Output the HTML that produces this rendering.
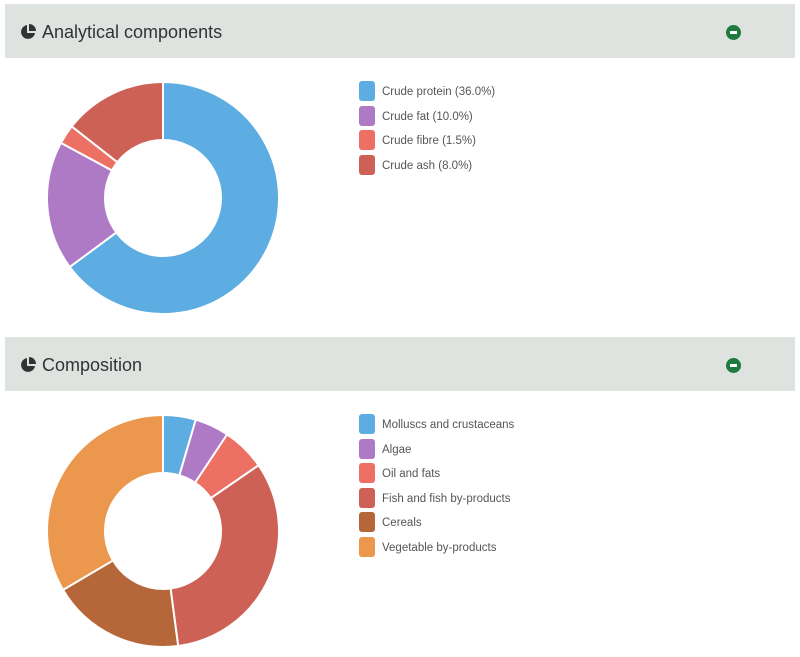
<!DOCTYPE html>
<html><head><meta charset="utf-8"><style>
body{margin:0;width:800px;height:657px;background:#fff;font-family:"Liberation Sans",sans-serif;position:relative;overflow:hidden}
.hdr{position:absolute;left:5px;width:790px;height:54px;background:#dfe3e0}
.hdr .t{position:absolute;left:37px;top:18px;font-size:18px;color:#333}
.hdr .pi{position:absolute;left:15px;top:20px;width:16px;height:16px}
.hdr .g{position:absolute;left:721px;top:21px;width:15px;height:15px;border-radius:50%;background:#1e7a3e}
.hdr .g:after{content:"";position:absolute;left:4px;top:6px;width:7px;height:3px;background:#fff}
.lg{position:absolute;left:359px;font-size:11.5px;color:#555}
.lg div{height:24.5px;position:relative}
.lg span{position:absolute;left:0;top:0;width:16px;height:20px;border-radius:3px}
.lg b{font-weight:normal;position:absolute;left:23px;top:5px;white-space:nowrap}
svg.c{position:absolute;left:0;top:0}
</style></head><body>
<div class="hdr" style="top:4px"><svg class="pi" viewBox="0 0 16 16"><path d="M7 1A7 7 0 1 0 15 9H7Z" fill="#333"/><path d="M9 0A7 7 0 0 1 16 7H9Z" fill="#333"/></svg><div class="t">Analytical components</div><div class="g"></div></div>
<div class="hdr" style="top:337px"><svg class="pi" viewBox="0 0 16 16"><path d="M7 1A7 7 0 1 0 15 9H7Z" fill="#333"/><path d="M9 0A7 7 0 0 1 16 7H9Z" fill="#333"/></svg><div class="t">Composition</div><div class="g"></div></div>
<div class="lg" style="top:81px">
<div><span style="background:#5dade2"></span><b>Crude protein (36.0%)</b></div>
<div><span style="background:#af7ac5"></span><b>Crude fat (10.0%)</b></div>
<div><span style="background:#ec7063"></span><b>Crude fibre (1.5%)</b></div>
<div><span style="background:#cd6155"></span><b>Crude ash (8.0%)</b></div>
</div>
<div class="lg" style="top:414px">
<div><span style="background:#5dade2"></span><b>Molluscs and crustaceans</b></div>
<div><span style="background:#af7ac5"></span><b>Algae</b></div>
<div><span style="background:#ec7063"></span><b>Oil and fats</b></div>
<div><span style="background:#cd6155"></span><b>Fish and fish by-products</b></div>
<div><span style="background:#b5673a"></span><b>Cereals</b></div>
<div><span style="background:#eb984e"></span><b>Vegetable by-products</b></div>
</div>
<svg class="c" width="800" height="657" id="s"></svg>
<script>
function donut(cx,cy,R,r,bounds,cols){
 let out="";let a0=0;
 bounds.forEach((a1,i)=>{
  const p=(a,rad)=>[cx+rad*Math.sin(a*Math.PI/180),cy-rad*Math.cos(a*Math.PI/180)];
  const L=(a1-a0)>180?1:0;
  const [x1,y1]=p(a0,R),[x2,y2]=p(a1,R),[x3,y3]=p(a1,r),[x4,y4]=p(a0,r);
  out+=`<path d="M${x1} ${y1}A${R} ${R} 0 ${L} 1 ${x2} ${y2}L${x3} ${y3}A${r} ${r} 0 ${L} 0 ${x4} ${y4}Z" fill="${cols[i]}" stroke="#fff" stroke-width="2"/>`;
  a0=a1;});
 return out;}
const t=55.5;
let s=donut(163,198,116,58,[36/t*360,46/t*360,47.5/t*360,360],["#5dade2","#af7ac5","#ec7063","#cd6155"]);
s+=donut(163,531,116,58,[16.4,33.6,55.5,172.5,239.5,360],["#5dade2","#af7ac5","#ec7063","#cd6155","#b5673a","#eb984e"]);
document.getElementById("s").innerHTML=s;
</script>
</body></html>
